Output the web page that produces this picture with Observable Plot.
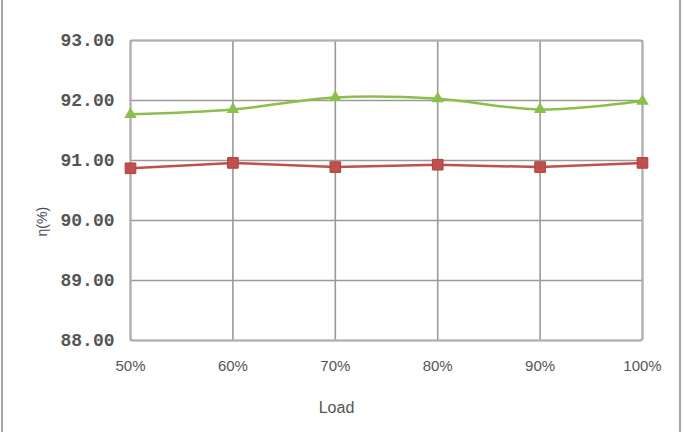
<!DOCTYPE html>
<html>
<head>
<meta charset="utf-8">
<script src="https://cdn.jsdelivr.net/npm/d3@7"></script>
<script src="https://cdn.jsdelivr.net/npm/@observablehq/plot@0.6"></script>
<style>
  html, body { margin: 0; padding: 0; background: #fff; }
  #wrap { position: relative; width: 684px; height: 432px; overflow: hidden; background: #fff; }
  .edge { position: absolute; top: 0; width: 2px; height: 432px; background: #a6a6a6; }
</style>
</head>
<body>
<div id="wrap">
  <div id="chart"></div>
  <div class="edge" style="left:1px"></div>
  <div class="edge" style="left:679px"></div>
</div>
<script>
const loads = [50, 60, 70, 80, 90, 100];
const seriesA = [91.77, 91.85, 92.05, 92.03, 91.85, 91.99]; // green, triangles
const seriesB = [90.87, 90.96, 90.89, 90.93, 90.89, 90.96]; // red, squares
const yTicks = [88, 89, 90, 91, 92, 93];

const green = loads.map((x, i) => ({x, y: seriesA[i]}));
const red = loads.map((x, i) => ({x, y: seriesB[i]}));

const chart = Plot.plot({
  width: 684,
  height: 432,
  marginLeft: 130,
  marginRight: 42,
  marginTop: 40,
  marginBottom: 92,
  style: { background: "transparent", overflow: "visible" },
  x: { domain: [50, 100], ticks: loads, tickFormat: d => d + "%", tickSize: 0, tickPadding: 20, label: null },
  y: { domain: [88, 93], ticks: yTicks, tickFormat: d => d.toFixed(2), tickSize: 0, tickPadding: 16, label: null },
  marks: [
    Plot.gridX(loads, { stroke: "#9a9a9a", strokeOpacity: 1, strokeWidth: 1.6 }),
    Plot.gridY(yTicks, { stroke: "#9a9a9a", strokeOpacity: 1, strokeWidth: 1.6 }),
    Plot.frame({ stroke: "#b0b0b0", strokeWidth: 2, rx: 3 }),
    Plot.axisX(loads, { tickSize: 0, tickPadding: 20, tickFormat: d => d + "%", fontSize: 15, fill: "#555", fontFamily: "Liberation Sans, Arial, sans-serif", label: null }),
    Plot.axisY(yTicks, { tickSize: 0, tickPadding: 16, tickFormat: d => d.toFixed(2), fontSize: 18, fontWeight: "bold", fill: "#555", fontFamily: "Liberation Mono, monospace", label: null }),
    Plot.line(red, { x: "x", y: "y", stroke: "#c0504d", strokeWidth: 2.5 }),
    Plot.line(green, { x: "x", y: "y", stroke: "#8cbf4a", strokeWidth: 2.5, curve: "catmull-rom" }),
    Plot.dot(red, { x: "x", y: "y", symbol: "square", r: 6, fill: "#c0504d", stroke: "#b0403d", strokeWidth: 1 }),
    Plot.dot(green, { x: "x", y: "y", symbol: "triangle", r: 4.6, fill: "#8cbf4a" }),
    Plot.text(["Load"], { frameAnchor: "bottom", dy: 72, dx: -50, fontSize: 16, fill: "#555", fontFamily: "Liberation Sans, Arial, sans-serif" }),
    Plot.text(["η(%)"], { frameAnchor: "left", dx: -88, dy: 46, rotate: -90, fontSize: 14, fill: "#444a5a", fontFamily: "Liberation Sans, Arial, sans-serif" })
  ]
});
document.getElementById("chart").appendChild(chart);
</script>
</body>
</html>
